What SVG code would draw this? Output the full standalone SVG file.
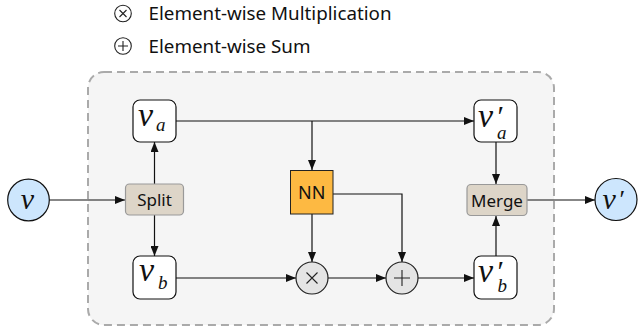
<svg xmlns="http://www.w3.org/2000/svg" width="640" height="327" viewBox="0 0 640 327">
<style>
.lbl{font-family:"Noto Sans","Open Sans","Liberation Sans",sans-serif;fill:#111}
.math{font-family:"Liberation Serif","DejaVu Serif",serif;font-style:italic;fill:#111}
.prime{font-family:"Liberation Serif","DejaVu Serif",serif;fill:#111}
.box{fill:#fff;stroke:#111;stroke-width:1.2}
.op{fill:#e4e4e4;stroke:#222;stroke-width:1.2}
.io{fill:#cde6fd;stroke:#111;stroke-width:1.2}
.sm{fill:#ddd5c8;stroke:#999;stroke-width:1.2}
.conn path{fill:none;stroke:#111;stroke-width:1.2}
.sym{fill:none;stroke:#222;stroke-width:1.1}
</style>
<defs>
<marker id="ah" markerUnits="userSpaceOnUse" markerWidth="10" markerHeight="8" refX="10" refY="4" orient="auto">
<path d="M0,0 L10,4 L0,8 z" fill="#111"/>
</marker>
</defs>

<g id="legend">
<circle cx="123" cy="13.5" r="8.3" class="sym"/>
<path d="M119.5 10 L126.5 17 M126.5 10 L119.5 17" class="sym"/>
<text x="148.5" y="20" class="lbl" font-size="18.8">Element-wise Multiplication</text>
<circle cx="123" cy="46" r="8.3" class="sym"/>
<path d="M118 46 L128 46 M123 41 L123 51" class="sym"/>
<text x="148.5" y="52.5" class="lbl" font-size="18.8">Element-wise Sum</text>
</g>

<g id="container">
<rect x="88" y="72" width="466" height="253" rx="16" fill="#f5f5f5" stroke="#aaa" stroke-width="2" stroke-dasharray="8,5"/>
</g>

<g class="conn" id="connectors">
<path d="M49 200 L125 200" marker-end="url(#ah)"/>
<path d="M154.5 184 L154.5 142" marker-end="url(#ah)"/>
<path d="M154.5 215 L154.5 256" marker-end="url(#ah)"/>
<path d="M176 121 L474 121" marker-end="url(#ah)"/>
<path d="M312 121 L312 170" marker-end="url(#ah)"/>
<path d="M312 214 L312 262" marker-end="url(#ah)"/>
<path d="M333 194 L402 194 L402 262" marker-end="url(#ah)"/>
<path d="M176 278 L296 278" marker-end="url(#ah)"/>
<path d="M328 278 L386 278" marker-end="url(#ah)"/>
<path d="M418 278 L474 278" marker-end="url(#ah)"/>
<path d="M496 256 L496 216" marker-end="url(#ah)"/>
<path d="M496 142 L496 184" marker-end="url(#ah)"/>
<path d="M527 200 L595 200" marker-end="url(#ah)"/>
</g>

<g id="node-v">
<circle cx="28.5" cy="200" r="20.8" class="io"/>
<text x="27.5" y="209" class="math" font-size="30" text-anchor="middle">v</text>
</g>

<g id="node-split">
<rect x="125.5" y="184" width="58" height="31" rx="4" class="sm"/>
<text x="154.5" y="206" class="lbl" font-size="17" text-anchor="middle">Split</text>
</g>

<g id="node-va">
<rect x="133" y="100" width="43" height="42" rx="7" class="box"/>
<text x="138" y="126" class="math" font-size="34">v</text>
<text x="156" y="130.5" class="math" font-size="19">a</text>
</g>

<g id="node-vb">
<rect x="133" y="256" width="43" height="43" rx="7" class="box"/>
<text x="139" y="281" class="math" font-size="34">v</text>
<text x="158" y="288.5" class="math" font-size="19">b</text>
</g>

<g id="node-nn">
<rect x="290.5" y="170.5" width="42.5" height="43.5" fill="#fdb942" stroke="#222" stroke-width="1"/>
<text x="311.8" y="198.5" class="lbl" font-size="18" text-anchor="middle">NN</text>
</g>

<g id="node-mul">
<circle cx="312" cy="278" r="16" class="op"/>
<path d="M306.5 272.5 L317.5 283.5 M317.5 272.5 L306.5 283.5" class="sym"/>
</g>

<g id="node-sum">
<circle cx="402" cy="278" r="16" class="op"/>
<path d="M394 278 L410 278 M402 270 L402 286" class="sym"/>
</g>

<g id="node-vpa">
<rect x="474" y="100" width="43" height="42" rx="7" class="box"/>
<text x="478" y="127" class="math" font-size="34">v</text>
<text x="497.5" y="126" class="prime" font-size="30">′</text>
<text x="497" y="138.5" class="math" font-size="19">a</text>
</g>

<g id="node-vpb">
<rect x="474" y="256" width="43" height="43" rx="7" class="box"/>
<text x="478" y="282" class="math" font-size="34">v</text>
<text x="497.5" y="281" class="prime" font-size="30">′</text>
<text x="497.5" y="292" class="math" font-size="19">b</text>
</g>

<g id="node-merge">
<rect x="467" y="184.5" width="60" height="31" rx="4" class="sm"/>
<text x="497" y="206.5" class="lbl" font-size="17" text-anchor="middle">Merge</text>
</g>

<g id="node-vp">
<circle cx="616" cy="199.5" r="21" class="io"/>
<text x="602.5" y="209" class="math" font-size="30">v</text>
<text x="619.5" y="208" class="prime" font-size="26">′</text>
</g>
</svg>
